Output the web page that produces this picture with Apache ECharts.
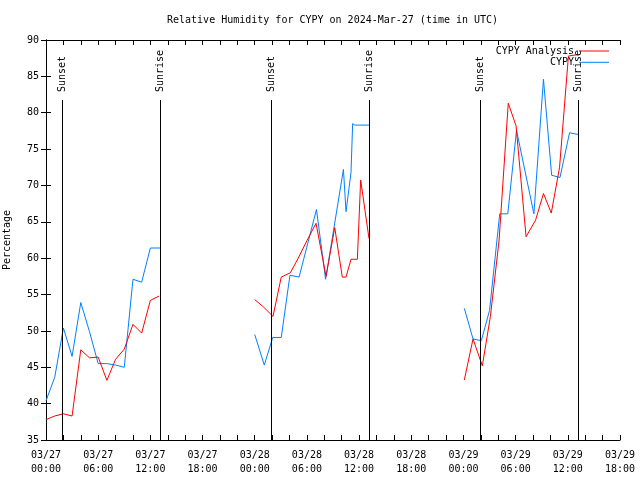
<!DOCTYPE html>
<html><head><meta charset="utf-8">
<script src="https://cdn.jsdelivr.net/npm/echarts@6/dist/echarts.min.js"></script>
<style>html,body{margin:0;padding:0;background:#fff}#c{width:640px;height:480px}</style>
</head><body><div id="c"></div>
<script>
const FONT = 'DejaVu Sans Mono';
const titleText = 'Relative Humidity for CYPY on 2024-Mar-27 (time in UTC)';
const yAxisTitle = 'Percentage';
const analysisName = 'CYPY Analysis';
const obsName = 'CYPY';
const startMonth = '03';
const startDay = 27;
// times are hours since 2024-03-27 00:00 UTC
const anaHours1 = [0,1,2,3,4,5,6,7,8,9,10,11,12,13];
const anaValues1 = [37.8,38.3,38.6,38.3,47.4,46.3,46.4,43.2,46.1,47.5,50.9,49.7,54.2,54.8];
const anaHours2 = [24,25,26.1,27.05,28.1,29,30,31.05,32.2,33.2,34.07,34.5,35.07,35.8,36.18,37.14];
const anaValues2 = [54.3,53.3,52.0,57.4,58.0,60.0,62.4,64.8,57.5,64.2,57.4,57.4,59.85,59.85,70.75,62.7];
const anaHours3 = [48.1,49.1,50.17,51.1,52.1,53.15,54.05,55.2,56.3,57.2,58.1,59.05,60.07,61.2];
const anaValues3 = [43.25,48.9,45.2,52.0,62.5,81.3,78.2,62.95,65.25,68.9,66.2,72.5,87.8,88.0];
const obsHours1 = [0,1,2,3,4,5,6,7,8,9,10,11,12,13.1];
const obsValues1 = [40.4,43.6,50.4,46.5,53.9,49.9,45.5,45.5,45.3,45.0,57.1,56.7,61.4,61.4];
const obsHours2 = [24,25.1,26.07,27.05,28.05,29.1,31.1,32.15,34.2,34.5,35.07,35.26,35.5,37.14];
const obsValues2 = [49.5,45.3,49.1,49.1,57.65,57.4,66.7,57.1,72.2,66.4,71.8,78.5,78.3,78.3];
const obsHours3 = [48.1,49.1,50.05,51.0,52.17,53.1,54.1,56.1,57.2,58.14,59.1,60.2,61.2];
const obsValues3 = [53.1,48.9,48.65,52.8,66.1,66.1,77.6,66.1,84.6,71.4,71.1,77.25,77.0];
const sunsetHours = [1.9, 25.91, 49.93];
const sunriseHours = [13.19, 37.18, 61.2];
const sunLineTop = 81.75;
const sunLabelStart = 82.85;
const yMin = 35, yMax = 90, yStep = 5;
const xMin = 0, xMax = 66, xTickStep = 2, xLabelStep = 6;

function build(hs, vs) {
  const out = [];
  for (let s = 0; s < hs.length; s++) {
    if (s > 0) out.push([(hs[s-1][hs[s-1].length-1] + hs[s][0]) / 2, null]);
    for (let i = 0; i < hs[s].length; i++) out.push([hs[s][i], vs[s][i]]);
  }
  return out;
}
const anaData = build([anaHours1, anaHours2, anaHours3], [anaValues1, anaValues2, anaValues3]);
const obsData = build([obsHours1, obsHours2, obsHours3], [obsValues1, obsValues2, obsValues3]);

function sunLines(hours, label) {
  const res = [];
  hours.forEach(h => {
    res.push([{coord: [h, yMin]}, {coord: [h, sunLineTop]}]);
    res.push([{coord: [h, sunLabelStart], lineStyle: {color: 'rgba(0,0,0,0)', width: 1},
               label: {show: true, position: 'insideStartTop', formatter: label, fontFamily: FONT, fontSize: 10, color: '#000', distance: [0, -5]}},
              {coord: [h, yMax]}]);
  });
  return res;
}

function pad(n) { return (n < 10 ? '0' : '') + n; }
const xLabelFmt = v => {
  if (Math.abs(v % xLabelStep) > 1e-6) return '';
  const day = startDay + Math.floor(v / 24);
  return startMonth + '/' + pad(day) + '\n' + pad(v % 24) + ':00';
};

const txt = {fontFamily: FONT, fontSize: 10, color: '#000'};
const axisLine = {show: true, lineStyle: {color: '#000', width: 1}};
const chart = echarts.init(document.getElementById('c'), null, {renderer: 'canvas'});
chart.setOption({
  animation: false,
  backgroundColor: '#fff',
  title: {text: titleText, left: 162, top: 10, textStyle: Object.assign({fontWeight: 'normal'}, txt)},
  grid: {left: 46, right: 20, top: 40, bottom: 40, containLabel: false, outerBoundsMode: 'none'},
  legend: {
    orient: 'vertical', align: 'right', right: 26, top: 41, itemWidth: 30, itemHeight: 1, itemGap: 1.3,
    icon: 'rect', textStyle: txt,
    data: [analysisName, obsName]
  },
  xAxis: [
    {type: 'value', min: xMin, max: xMax, interval: xTickStep, position: 'bottom',
     axisLine: axisLine, axisTick: {show: true, inside: true, length: 5, lineStyle: {color: '#000'}},
     axisLabel: Object.assign({formatter: xLabelFmt, margin: 8, lineHeight: 14, showMinLabel: true, showMaxLabel: true}, txt),
     splitLine: {show: false}},
    {type: 'value', min: xMin, max: xMax, interval: xTickStep, position: 'top',
     axisLine: axisLine, axisTick: {show: true, inside: true, length: 5, lineStyle: {color: '#000'}},
     axisLabel: {show: false}, splitLine: {show: false}}
  ],
  yAxis: [
    {type: 'value', min: yMin, max: yMax, interval: yStep, position: 'left',
     name: yAxisTitle, nameLocation: 'middle', nameGap: 34, nameTextStyle: txt,
     axisLine: axisLine, axisTick: {show: true, inside: true, length: 5, lineStyle: {color: '#000'}},
     axisLabel: Object.assign({margin: 7}, txt), splitLine: {show: false}},
    {type: 'value', min: yMin, max: yMax, interval: yStep, position: 'right',
     axisLine: axisLine, axisTick: {show: true, inside: true, length: 5, lineStyle: {color: '#000'}},
     axisLabel: {show: false}, splitLine: {show: false}}
  ],
  series: [
    {name: analysisName, type: 'line', data: anaData, showSymbol: false, connectNulls: false,
     lineStyle: {color: '#ff0000', width: 1}, itemStyle: {color: '#ff0000'}, z: 3},
    {name: obsName, type: 'line', data: obsData, showSymbol: false, connectNulls: false,
     lineStyle: {color: '#0080ff', width: 1}, itemStyle: {color: '#0080ff'}, z: 2},
    {name: 'sun', type: 'line', data: [], z: 4,
     markLine: {silent: true, symbol: ['none', 'none'], label: {show: false},
       lineStyle: {color: '#000', width: 1, type: 'solid'},
       data: sunLines(sunsetHours, 'Sunset').concat(sunLines(sunriseHours, 'Sunrise'))}}
  ]
});
</script></body></html>
